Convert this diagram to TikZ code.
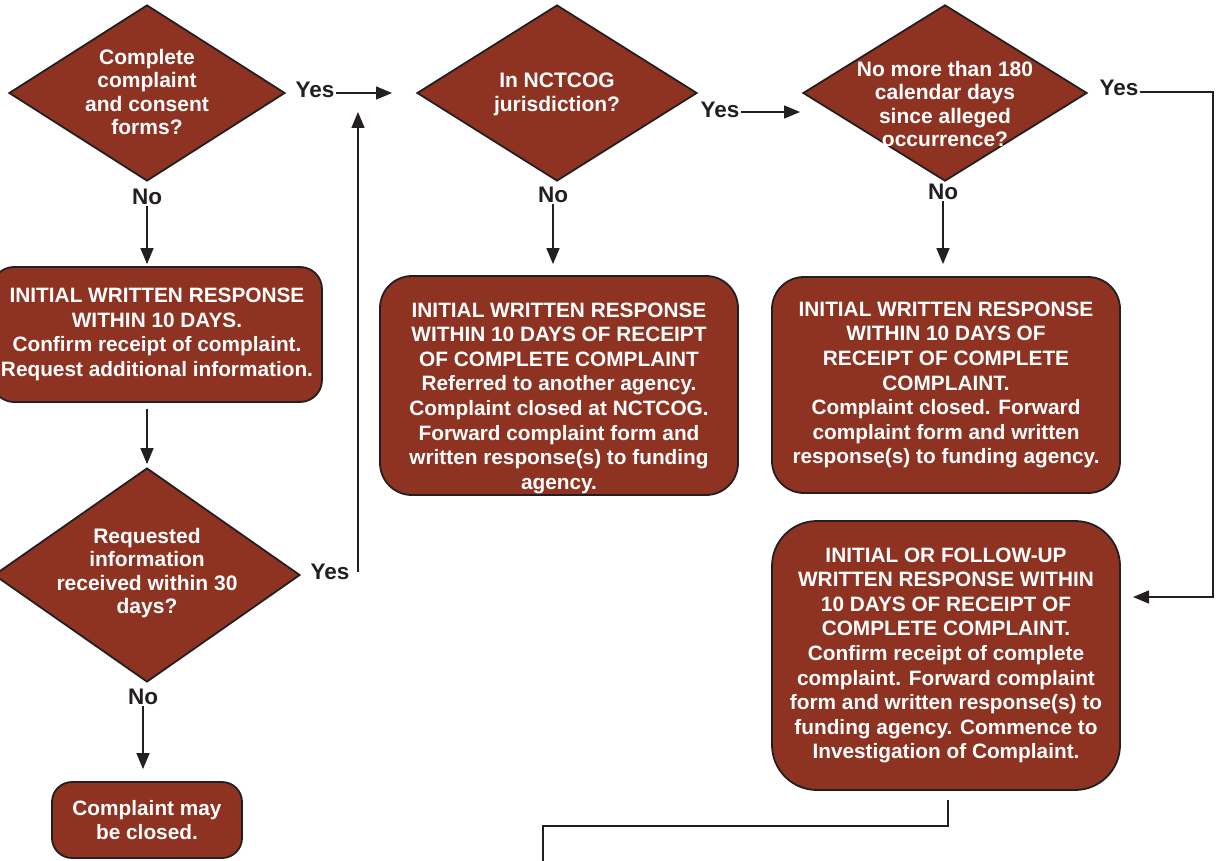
\documentclass[tikz,border=0pt]{standalone}
\usepackage{fontspec}
\setmainfont{Liberation Sans}
\usetikzlibrary{shapes.geometric,arrows.meta,positioning}
\definecolor{brick}{RGB}{142,50,34}
\definecolor{ink}{RGB}{35,31,32}
\newcommand{\dq}[2][-7pt]{\smash{\raisebox{#1}{\begin{tabular}{@{}c@{}}#2\end{tabular}}}}

\tikzset{
  decision/.style={diamond, draw=ink, line width=1.8pt, fill=brick, inner sep=0pt, text=white, font=\bfseries\fontsize{21}{23.5}\selectfont},
  stepbox/.style={rectangle, rounded corners=#1, draw=ink, line width=1.8pt, fill=brick, text=white, align=center, inner sep=0pt, font=\bfseries\fontsize{20.8}{24.6}\selectfont},
  stepbox/.default=22pt,
  answer/.style={font=\bfseries\fontsize{22.5}{24}\selectfont, text=ink, inner sep=1pt},
  arr/.style={line width=1.4pt, draw=ink, -{Triangle[length=16pt,width=13pt]}},
  link/.style={line width=1.4pt, draw=ink},
}

\begin{document}
\begin{tikzpicture}[x=1pt,y=-1pt]
\useasboundingbox (0,0) rectangle (1217,861);
% decisions
\node[decision, minimum width=276pt, minimum height=176pt] (q1) at (147,93) {\dq{Complete\\complaint\\and consent\\forms?}};
\node[decision, minimum width=306pt, minimum height=214pt] (q2) at (147,575) {\dq[-4pt]{Requested\\information\\received within 30\\days?}};
\node[decision, minimum width=280pt, minimum height=176pt] (q3) at (557,93) {\dq{In NCTCOG\\jurisdiction?}};
\node[decision, minimum width=284pt, minimum height=176pt] (q4) at (945,93) {\dq[-19pt]{No more than 180\\calendar days\\since alleged\\occurrence?}};
% responses
\node[stepbox, minimum width=330pt, minimum height=135pt] (r1) at (157,334.5) {INITIAL WRITTEN RESPONSE\\WITHIN 10 DAYS.\\Confirm receipt of complaint.\\Request additional information.};
\node[stepbox=20pt, minimum width=190pt, minimum height=76pt] (r2) at (147,820) {Complaint may\\be closed.};
\node[stepbox=32pt, minimum width=358pt, minimum height=219pt] (r3) at (559,385.5) {\rule{0pt}{15pt}\\INITIAL WRITTEN RESPONSE\\WITHIN 10 DAYS OF RECEIPT\\OF COMPLETE COMPLAINT\\Referred to another agency.\\Complaint closed at NCTCOG.\\Forward complaint form and\\written response(s) to funding\\agency.};
\node[stepbox=32pt, minimum width=348pt, minimum height=216pt] (r4) at (946,385) {INITIAL WRITTEN RESPONSE\\WITHIN 10 DAYS OF\\RECEIPT OF COMPLETE\\COMPLAINT.\\Complaint closed. Forward\\complaint form and written\\response(s) to funding agency.};
\node[stepbox=45pt, minimum width=348pt, minimum height=269pt] (r5) at (946,655.5) {INITIAL OR FOLLOW-UP\\WRITTEN RESPONSE WITHIN\\10 DAYS OF RECEIPT OF\\COMPLETE COMPLAINT.\\Confirm receipt of complete\\complaint. Forward complaint\\form and written response(s) to\\funding agency. Commence to\\Investigation of Complaint.};
% yes / no
\node[answer] (y1) at (315,90) {Yes};
\node[answer] (n1) at (147,197) {No};
\node[answer] (y2) at (330,572) {Yes};
\node[answer] (n2) at (143,697) {No};
\node[answer] (y3) at (720,110) {Yes};
\node[answer] (n3) at (553,195) {No};
\node[answer] (y4) at (1119,88) {Yes};
\node[answer] (n4) at (943,192) {No};
\coordinate (j1) at (392,93);
\coordinate (j2) at (358,112);
\coordinate (j3) at (800,112);
\coordinate (yesturn) at (1213,92);
\coordinate (into5) at (1133,597);
\coordinate (down5) at (948,800);
\coordinate (knee) at (543,826);
\coordinate (out) at (543,861);
% connectors
\draw[arr] (y1.east |- j1) -- (j1);
\draw[arr] (y2.east -| j2) -- (j2);
\draw[arr] (y3.east |- j3) -- (j3);
\draw[arr] (y4.east |- yesturn) -- (yesturn) |- (into5);
\draw[arr, shorten >=2pt] (n1.south) -- (n1.south |- r1.north);
\draw[arr, shorten >=3pt] ([yshift=-6pt]r1.south -| q2.north) -- (q2.north);
\draw[arr, shorten >=12pt] (n2.south) -- (n2.south |- r2.north);
\draw[arr, shorten >=11pt] (n3.south) -- (n3.south |- r3.north);
\draw[arr, shorten >=12pt] (n4.south) -- (n4.south |- r4.north);
\draw[link] (down5) |- (knee) -- (out);
\end{tikzpicture}
\end{document}
